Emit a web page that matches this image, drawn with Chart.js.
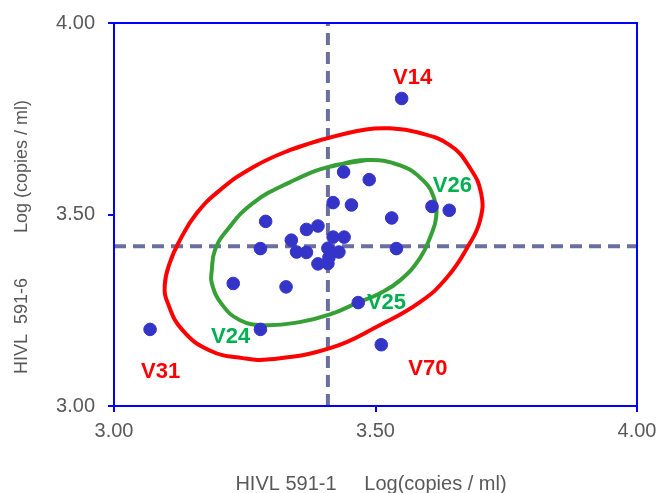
<!DOCTYPE html>
<html>
<head>
<meta charset="utf-8">
<script src="https://cdn.jsdelivr.net/npm/chart.js@4.4.1/dist/chart.umd.min.js"></script>
<style>
  html, body { margin: 0; padding: 0; background: #fff; }
  #wrap { width: 659px; height: 493px; }
</style>
</head>
<body>
<div id="wrap"><canvas id="hivChart" width="659" height="493"></canvas></div>
<script>
// HIVL 591-1 (x) vs HIVL 591-6 (y), log copies/ml
const sampleX = [3.550, 3.439, 3.488, 3.419, 3.454, 3.531, 3.608, 3.641, 3.290, 3.368,
                 3.390, 3.339, 3.419, 3.440, 3.280, 3.349, 3.368, 3.409, 3.430, 3.540,
                 3.390, 3.409, 3.411, 3.228, 3.329, 3.069, 3.280, 3.467, 3.511];
const sampleY = [3.803, 3.611, 3.591, 3.531, 3.525, 3.491, 3.521, 3.511, 3.482, 3.461,
                 3.470, 3.433, 3.441, 3.441, 3.411, 3.402, 3.401, 3.412, 3.402, 3.411,
                 3.371, 3.372, 3.388, 3.320, 3.311, 3.200, 3.200, 3.270, 3.160];

// outer (red) and inner (green) ellipse outlines
const outerX = [3.336, 3.399, 3.482, 3.527, 3.579, 3.642, 3.680, 3.702, 3.700, 3.677, 3.637, 3.585, 3.508,
                3.413, 3.298, 3.246, 3.183, 3.131, 3.103, 3.097, 3.107, 3.126, 3.158, 3.202, 3.265];
const outerY = [3.668, 3.696, 3.722, 3.725, 3.715, 3.681, 3.623, 3.555, 3.485, 3.417, 3.336, 3.271, 3.211,
                3.151, 3.122, 3.125, 3.145, 3.198, 3.268, 3.315, 3.375, 3.433, 3.503, 3.563, 3.623];
const innerX = [3.407, 3.483, 3.547, 3.591, 3.612, 3.616, 3.606, 3.585, 3.547, 3.508, 3.466,
                3.413, 3.355, 3.288, 3.241, 3.206, 3.187, 3.187, 3.193, 3.216, 3.265, 3.336];
const innerY = [3.623, 3.642, 3.628, 3.589, 3.542, 3.493, 3.446, 3.386, 3.328, 3.294, 3.270,
                3.239, 3.219, 3.211, 3.224, 3.266, 3.320, 3.354, 3.407, 3.459, 3.529, 3.584];

// mean reference lines
const meanX = 3.409;
const meanY = 3.417;

const axisTicks = [3.00, 3.50, 4.00];

// sample tags
const tagText = ['V14', 'V26', 'V25', 'V24', 'V31', 'V70'];
const tagX = [3.571, 3.647, 3.521, 3.223, 3.089, 3.600];
const tagY = [3.856, 3.575, 3.270, 3.180, 3.089, 3.096];
const tagRed = [true, false, false, false, true, true];

function toPoints(xs, ys) {
    return xs.map((x, i) => ({ x: x, y: ys[i] }));
}

function closedLoop(xs, ys) {
    const pts = toPoints(xs, ys);
    return pts.concat([pts[0], pts[1]]);
}

const TEXT = '#595959';
const AXIS = '#0000ff';

const frameAndText = {
    id: 'frameAndText',
    afterDatasetsDraw(chart) {
        const ctx = chart.ctx;
        const a = chart.chartArea;
        const xs = chart.scales.x, ys = chart.scales.y;
        ctx.save();
        // box round the plot
        ctx.strokeStyle = AXIS;
        ctx.lineWidth = 2;
        ctx.strokeRect(a.left, a.top, a.right - a.left, a.bottom - a.top);

        // tags
        ctx.font = 'bold 22px "Liberation Sans", Arial, sans-serif';
        ctx.textAlign = 'center';
        ctx.textBaseline = 'middle';
        tagText.forEach((t, i) => {
            ctx.fillStyle = tagRed[i] ? '#ff0000' : '#00b050';
            ctx.fillText(t, xs.getPixelForValue(tagX[i]), ys.getPixelForValue(tagY[i]));
        });

        // axis titles
        ctx.fillStyle = TEXT;
        ctx.font = '20px "Liberation Sans", Arial, sans-serif';
        ctx.fillText('HIVL 591-1     Log(copies / ml)', 371, 484);
        ctx.translate(22, 237);
        ctx.rotate(-Math.PI / 2);
        ctx.font = '18px "Liberation Sans", Arial, sans-serif';
        ctx.fillText('HIVL  591-6         Log (copies / ml)', 0, 0);
        ctx.restore();
    }
};

const ctx = document.getElementById('hivChart').getContext('2d');
new Chart(ctx, {
    type: 'scatter',
    data: {
        datasets: [
            {
                label: 'samples',
                data: toPoints(sampleX, sampleY),
                backgroundColor: '#3434c9',
                borderColor: '#3434c9',
                pointRadius: 6.3,
                pointHoverRadius: 6.3,
                order: 0
            },
            {
                label: 'outer',
                data: closedLoop(outerX, outerY),
                showLine: true,
                borderColor: '#ff0000',
                borderWidth: 4,
                pointRadius: 0,
                tension: 0.45,
                order: 1
            },
            {
                label: 'inner',
                data: closedLoop(innerX, innerY),
                showLine: true,
                borderColor: '#36a036',
                borderWidth: 4,
                pointRadius: 0,
                tension: 0.45,
                order: 1
            },
            {
                label: 'meanX',
                data: [{ x: meanX, y: 3 }, { x: meanX, y: 4 }],
                showLine: true,
                borderColor: '#6b6fa0',
                borderWidth: 4,
                borderDash: [12, 7],
                pointRadius: 0,
                order: 2
            },
            {
                label: 'meanY',
                data: [{ x: 3, y: meanY }, { x: 4, y: meanY }],
                showLine: true,
                borderColor: '#6b6fa0',
                borderWidth: 4,
                borderDash: [12, 7],
                pointRadius: 0,
                order: 2
            }
        ]
    },
    options: {
        responsive: false,
        animation: false,
        layout: { padding: { top: 23, right: 22, left: 0, bottom: 0 } },
        plugins: {
            legend: { display: false },
            tooltip: { enabled: false }
        },
        scales: {
            x: {
                type: 'linear',
                min: 3, max: 4,
                afterFit: s => { s.height = 87; s.paddingRight = 0; s.paddingLeft = 0; },
                afterBuildTicks: s => { s.ticks = axisTicks.map(v => ({ value: v })); },
                border: { color: AXIS, width: 2 },
                grid: { drawOnChartArea: false, color: AXIS, lineWidth: 2, tickLength: 6 },
                ticks: {
                    color: TEXT,
                    padding: 7,
                    font: { family: '"Liberation Sans", Arial, sans-serif', size: 20 },
                    callback: v => Number(v).toFixed(2)
                }
            },
            y: {
                type: 'linear',
                min: 3, max: 4,
                afterFit: s => { s.width = 114; s.paddingTop = 0; s.paddingBottom = 0; },
                afterBuildTicks: s => { s.ticks = axisTicks.map(v => ({ value: v })); },
                border: { color: AXIS, width: 2 },
                grid: { drawOnChartArea: false, color: AXIS, lineWidth: 2, tickLength: 6 },
                ticks: {
                    color: TEXT,
                    padding: 13,
                    font: { family: '"Liberation Sans", Arial, sans-serif', size: 20 },
                    callback: v => Number(v).toFixed(2)
                }
            }
        }
    },
    plugins: [frameAndText]
});
</script>
</body>
</html>
